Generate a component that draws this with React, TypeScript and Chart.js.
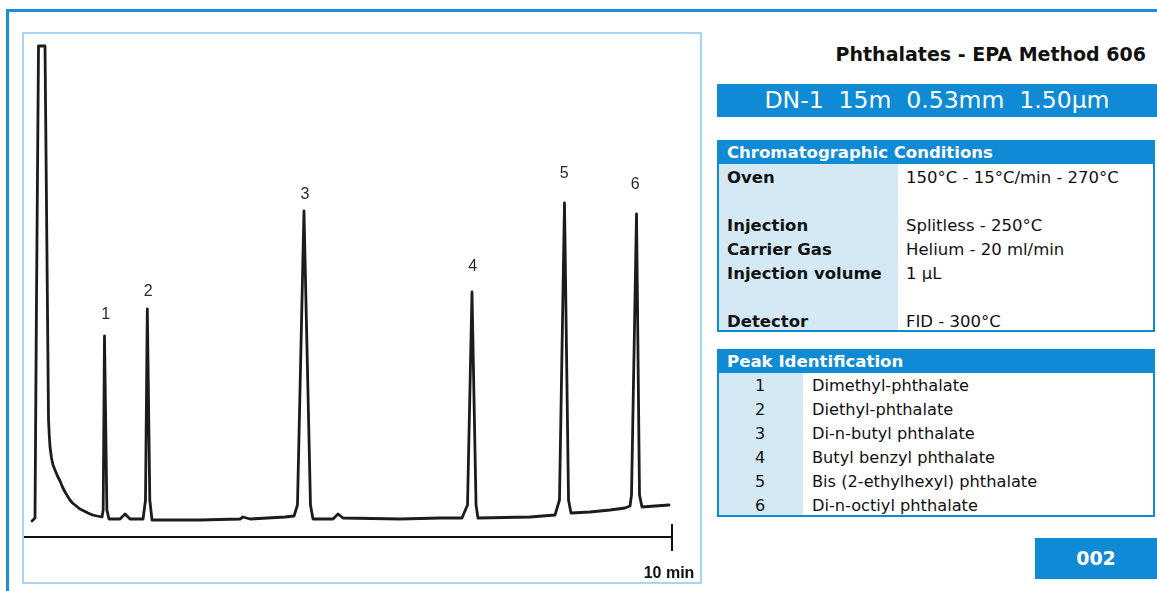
import React, { useEffect, useRef } from "react";
import { Chart, registerables } from "chart.js";

Chart.register(...registerables);

// ---- chromatogram data (time in min, detector response in arbitrary units) ----
const signalTimes = [
  0.154, 0.2, 0.223, 0.254, 0.354, 0.408, 0.42, 0.431, 0.454, 0.477, 0.508,
  0.546, 0.585, 0.623, 0.662, 0.7, 0.738, 0.777, 0.815, 0.892, 0.954, 1.015, 1.085, 1.154, 1.231,
  1.249, 1.269, 1.306, 1.338,
  1.508, 1.554, 1.585, 1.615, 1.662, 1.862,
  1.9, 1.928, 1.966, 2.0,
  2.738, 3.354, 3.4, 3.508, 4.046, 4.185,
  4.238, 4.338, 4.438, 4.477,
  4.785, 4.862, 4.938, 5.815, 6.431, 6.769,
  6.854, 6.923, 6.985, 7.015,
  7.815, 8.2,
  8.269, 8.346, 8.408, 8.446,
  8.738, 9.046, 9.277, 9.354,
  9.377, 9.454, 9.5, 9.538,
  9.738, 9.954,
];
const signalValues = [
  16, 19, 237, 491, 491, 117, 101, 90, 79, 72, 67,
  61, 56, 50, 45, 41, 37, 34, 32, 28, 26, 24, 22, 21, 20,
  27, 201, 27, 18,
  18, 21, 23, 21, 18, 18,
  37, 228, 37, 17,
  17, 18, 20, 18, 20, 21,
  32, 326, 32, 18,
  18, 23, 19, 18, 19, 19,
  32, 245, 32, 19,
  20, 22,
  37, 334, 37, 24,
  25, 27, 29, 31,
  42, 323, 42, 30,
  31, 32,
];

const peakLabels = ["1", "2", "3", "4", "5", "6"];
const peakLabelTimes = [1.288, 1.943, 4.354, 6.934, 8.343, 9.435];
const peakLabelHeights = [224, 247, 344, 272, 365, 354];

const axisTimes = [0, 10];
const axisValues = [0, 0];
const tickTimes = [10, 10];
const tickValues = [13, -14];
const scaleLabel = "10 min";
const scaleLabelTime = 9.954;
const scaleLabelHeight = -35;

const xMin = 0;
const xMax = 10.4615;
const yMin = -47;
const yMax = 505;

// ---- side panel texts ----
const titleText = "Phthalates - EPA Method 606";
const columnText = "DN-1  15m  0.53mm  1.50µm";
const conditionsHeader = "Chromatographic Conditions";
const conditionLabels = ["Oven", "", "Injection", "Carrier Gas", "Injection volume", "", "Detector"];
const conditionValues = [
  "150°C - 15°C/min - 270°C",
  "",
  "Splitless - 250°C",
  "Helium - 20 ml/min",
  "1 µL",
  "",
  "FID - 300°C",
];
const peakHeader = "Peak Identification";
const peakNumbers = ["1", "2", "3", "4", "5", "6"];
const peakNames = [
  "Dimethyl-phthalate",
  "Diethyl-phthalate",
  "Di-n-butyl phthalate",
  "Butyl benzyl phthalate",
  "Bis (2-ethylhexyl) phthalate",
  "Di-n-octiyl phthalate",
];
const pageNumber = "002";

const BLUE = "#0f8bd5";
const LIGHT = "#d5e9f4";
const SANS = "'DejaVu Sans', Verdana, sans-serif";

function Chromatogram() {
  const ref = useRef<HTMLCanvasElement>(null);
  useEffect(() => {
    if (!ref.current) return;
    const labelPlugin = {
      id: "peakLabels",
      afterDatasetsDraw(chart: any) {
        const { ctx, scales } = chart;
        ctx.save();
        ctx.fillStyle = "#2a2a2a";
        ctx.font = "16px 'Liberation Sans', Arial, sans-serif";
        ctx.textAlign = "center";
        ctx.textBaseline = "alphabetic";
        peakLabels.forEach((lab, i) => {
          const x = scales.x.getPixelForValue(peakLabelTimes[i]);
          const y = scales.y.getPixelForValue(peakLabelHeights[i]);
          ctx.fillText(lab, x, y + 5.8);
        });
        ctx.font = "bold 16px 'Liberation Sans', Arial, sans-serif";
        ctx.fillStyle = "#111";
        ctx.fillText(
          scaleLabel,
          scales.x.getPixelForValue(scaleLabelTime),
          scales.y.getPixelForValue(scaleLabelHeight) + 5.8
        );
        ctx.restore();
      },
    };
    const chart = new Chart(ref.current, {
      type: "line",
      data: {
        datasets: [
          {
            data: signalTimes.map((t, i) => ({ x: t, y: signalValues[i] })),
            borderColor: "#1c1c1c",
            borderWidth: 2.8,
            pointRadius: 0,
            tension: 0,
            fill: false,
            borderJoinStyle: "round",
            borderCapStyle: "round",
          },
          {
            data: axisTimes.map((t, i) => ({ x: t, y: axisValues[i] })),
            borderColor: "#111",
            borderWidth: 2,
            pointRadius: 0,
            tension: 0,
            fill: false,
          },
          {
            data: tickTimes.map((t, i) => ({ x: t, y: tickValues[i] })),
            borderColor: "#111",
            borderWidth: 2,
            pointRadius: 0,
            tension: 0,
            fill: false,
          },
        ],
      } as any,
      options: {
        animation: false,
        responsive: false,
        maintainAspectRatio: false,
        events: [],
        layout: { padding: 0 },
        plugins: { legend: { display: false }, tooltip: { enabled: false } },
        scales: {
          x: { type: "linear", min: xMin, max: xMax, display: false },
          y: { type: "linear", min: yMin, max: yMax, display: false },
        },
      } as any,
      plugins: [labelPlugin],
    });
    return () => chart.destroy();
  }, []);
  return (
    <canvas
      ref={ref}
      width={680}
      height={552}
      style={{ position: "absolute", left: 22, top: 32, width: 680, height: 552 }}
    />
  );
}

const abs = (s: React.CSSProperties): React.CSSProperties => ({ position: "absolute", boxSizing: "border-box", ...s });

export default function App() {
  return (
    <div style={abs({ left: 0, top: 0, width: 1157, height: 591, background: "#fff", overflow: "hidden", fontFamily: SANS, color: "#111" })}>
      <div style={abs({ left: 6, top: 9, width: 1151, height: 582, borderTop: "3px solid #1c8dd8", borderLeft: "3px solid #1c8dd8" })} />
      <Chromatogram />
      <div style={abs({ left: 22, top: 32, width: 680, height: 552, border: "2px solid #a8d6f2", pointerEvents: "none" })} />

      <div style={abs({ right: 11, top: 42, height: 24, lineHeight: "24px", fontSize: 19, fontWeight: "bold", whiteSpace: "nowrap", textAlign: "right" })}>
        {titleText}
      </div>
      <div style={abs({ left: 717, top: 84, width: 440, height: 33, lineHeight: "33px", background: BLUE, color: "#fff", fontSize: 23.5, textAlign: "center", whiteSpace: "pre" })}>
        {columnText}
      </div>

      {/* Chromatographic conditions */}
      <div style={abs({ left: 717, top: 164, width: 181, height: 168, background: LIGHT })} />
      <div style={abs({ left: 717, top: 140, width: 438, height: 24, background: BLUE })} />
      <div style={abs({ left: 717, top: 140, width: 438, height: 192, border: `2px solid ${BLUE}` })} />
      <div style={abs({ left: 727, top: 140, height: 24, lineHeight: "25px", color: "#fff", fontWeight: "bold", fontSize: 16.5, whiteSpace: "nowrap" })}>
        {conditionsHeader}
      </div>
      {conditionLabels.map((lab, i) => (
        <div key={"cl" + i} style={abs({ left: 727, top: 166 + 24 * i, height: 24, lineHeight: "24px", fontWeight: "bold", fontSize: 16.5, whiteSpace: "nowrap" })}>
          {lab}
        </div>
      ))}
      {conditionValues.map((v, i) => (
        <div key={"cv" + i} style={abs({ left: 906, top: 166 + 24 * i, height: 24, lineHeight: "24px", fontSize: 16.5, whiteSpace: "nowrap" })}>
          {v}
        </div>
      ))}

      {/* Peak identification */}
      <div style={abs({ left: 717, top: 373, width: 86, height: 144, background: LIGHT })} />
      <div style={abs({ left: 717, top: 349, width: 438, height: 24, background: BLUE })} />
      <div style={abs({ left: 717, top: 349, width: 438, height: 168, border: `2px solid ${BLUE}` })} />
      <div style={abs({ left: 727, top: 349, height: 24, lineHeight: "25px", color: "#fff", fontWeight: "bold", fontSize: 16.6, whiteSpace: "nowrap" })}>
        {peakHeader}
      </div>
      {peakNumbers.map((n, i) => (
        <div key={"pn" + i} style={abs({ left: 717, width: 86, top: 374 + 24 * i, height: 24, lineHeight: "24px", fontSize: 16, textAlign: "center" })}>
          {n}
        </div>
      ))}
      {peakNames.map((n, i) => (
        <div key={"pm" + i} style={abs({ left: 812, top: 374 + 24 * i, height: 24, lineHeight: "24px", fontSize: 16.2, whiteSpace: "nowrap" })}>
          {n}
        </div>
      ))}

      <div style={abs({ left: 1035, top: 538, width: 122, height: 41, lineHeight: "41px", background: BLUE, color: "#fff", fontWeight: "bold", fontSize: 19, textAlign: "center" })}>
        {pageNumber}
      </div>
    </div>
  );
}
